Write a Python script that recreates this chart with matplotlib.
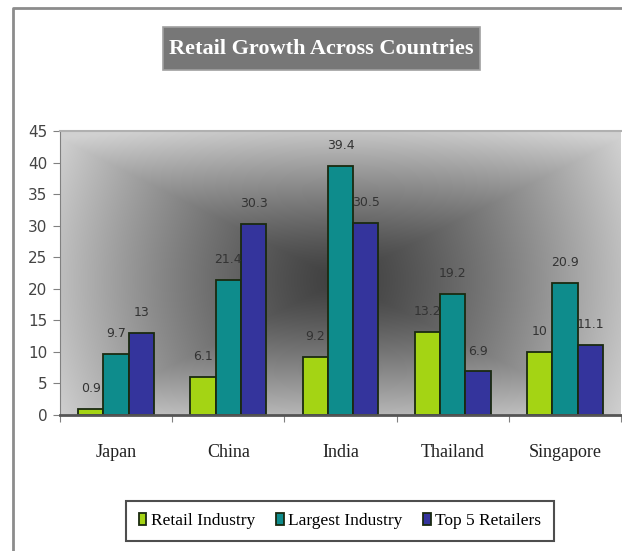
import numpy as np
import matplotlib
matplotlib.use("Agg")
import matplotlib.pyplot as plt
from matplotlib.patches import Rectangle
from matplotlib.lines import Line2D

countries = ["Japan", "China", "India", "Thailand", "Singapore"]
retail_industry = [0.9, 6.1, 9.2, 13.2, 10]
largest_industry = [9.7, 21.4, 39.4, 19.2, 20.9]
top5_retailers = [13, 30.3, 30.5, 6.9, 11.1]
series_names = ["Retail Industry", "Largest Industry", "Top 5 Retailers"]
yticks = [0, 5, 10, 15, 20, 25, 30, 35, 40, 45]

colors = ["#a4d414", "#0e8c8c", "#34349c"]
edge = "#1a2a10"

serif = "Liberation Serif"

W, H = 622, 551
fig = plt.figure(figsize=(W / 100, H / 100), dpi=100)
fig.patch.set_facecolor("white")

# outer chart frame (runs off the right and bottom edges)
fig.add_artist(Line2D([13 / W, 13 / W, 1.0], [0.0, 1 - 8 / H, 1 - 8 / H],
                      transform=fig.transFigure, color="#8c8c8c", linewidth=2.0))

left, right, top, bottom = 60, 621, 131, 415
ax = fig.add_axes([left / W, 1 - bottom / H, (right - left) / W, (bottom - top) / H])

ymax = 45
x = np.arange(len(countries))
bw = 0.225
ax.set_xlim(-0.5, len(countries) - 0.5)
ax.set_ylim(0, ymax)

# rectangular "from centre" gradient fill of the plot area
ny, nx = 300, 600
gy, gx = np.mgrid[-1:1:ny * 1j, -1:1:nx * 1j]
gy = gy - 0.05
d = np.maximum(np.abs(gx), np.abs(gy))
d = 0.65 * d + 0.35 * np.sqrt((gx ** 2 + gy ** 2) / 2)
shade = 0.25 + (0.82 - 0.25) * np.clip(d, 0, 1) ** 1.3
img = np.dstack([shade, shade, shade])
ax.imshow(img, extent=[-0.5, len(countries) - 0.5, 0, ymax], aspect="auto",
          zorder=0, interpolation="bilinear")

series = [retail_industry, largest_industry, top5_retailers]
for i, (vals, col, name) in enumerate(zip(series, colors, series_names)):
    xs = x + (i - 1) * bw
    bars = ax.bar(xs, vals, width=bw, color=col, edgecolor=edge, linewidth=1.3,
                  label=name, zorder=2)
    for b, v in zip(bars, vals):
        ax.text(b.get_x() + b.get_width() / 2, v + 2.2, f"{v:g}", ha="center",
                va="bottom", fontsize=9, color="#333333", zorder=3)

ax.spines["top"].set_color("#b0b0b0")
ax.spines["top"].set_linewidth(1.5)
ax.spines["right"].set_visible(False)
ax.spines["left"].set_color("#808080")
ax.spines["bottom"].set_color("#555555")
ax.spines["bottom"].set_linewidth(2.0)

ax.set_yticks(yticks)
ax.set_yticklabels([str(t) for t in yticks], fontsize=11, color="#444444")
ax.tick_params(axis="y", length=5, color="#808080", pad=4)
ax.set_xticks(np.arange(len(countries) + 1) - 0.5, minor=False)
ax.set_xticklabels([])
ax.set_xticks(x, minor=True)
ax.set_xticklabels(countries, minor=True, fontsize=13, family=serif, color="#222222")
ax.tick_params(axis="x", which="major", length=5, color="#808080")
ax.tick_params(axis="x", which="minor", length=0, pad=21)

# title banner
fig.add_artist(Rectangle((163 / W, 1 - 70 / H), 317 / W, 43 / H,
                         transform=fig.transFigure, facecolor="#777777",
                         edgecolor="#a0a0a0", linewidth=1.2))
fig.text(321.5 / W, 1 - 49 / H, "Retail Growth Across Countries", ha="center",
         va="center", fontsize=16, fontweight="bold", family=serif, color="white")

leg = fig.legend(loc="center", bbox_to_anchor=(340 / W, 1 - 521 / H), ncol=3,
                 prop={"family": serif, "size": 12.5}, frameon=True, fancybox=False,
                 edgecolor="#222222", handlelength=0.45, handleheight=0.7,
                 handletextpad=0.25, columnspacing=1.2, borderpad=0.7)
leg.get_frame().set_linewidth(1.5)

fig.savefig("out.png", dpi=100)
